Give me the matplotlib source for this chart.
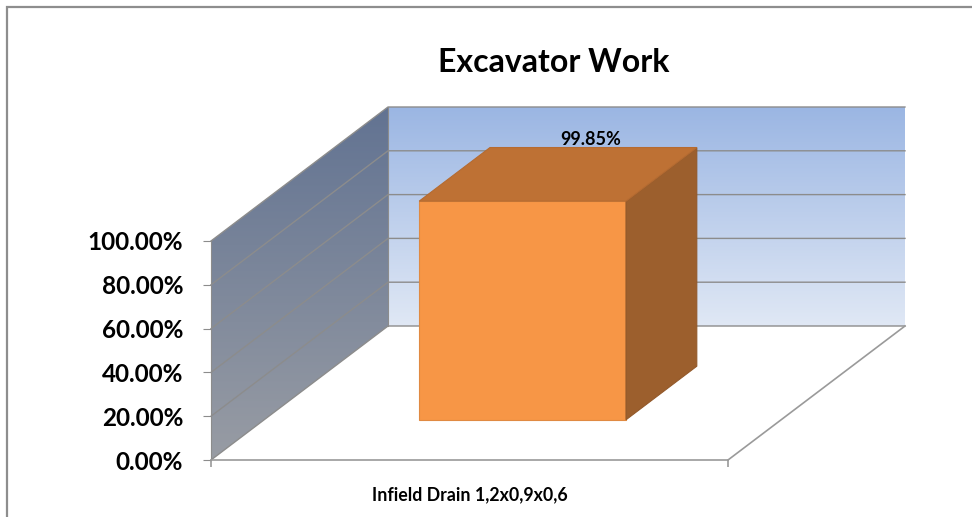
import numpy as np
import matplotlib
matplotlib.use("Agg")
import matplotlib.pyplot as plt
from matplotlib.patches import Polygon, Rectangle
from matplotlib.ticker import PercentFormatter
from matplotlib.colors import LinearSegmentedColormap

# data
categories = ["Infield Drain 1,2x0,9x0,6"]
values = [0.9985]
y_ticks = [0.0, 0.2, 0.4, 0.6, 0.8, 1.0]
title = "Excavator Work"

plt.rcParams['font.family'] = ['Lato', 'DejaVu Sans']

# oblique depth offset (in data units) and bar extent in category/depth
DX = 177 / 517
DY = 134 / 219
BAR_LO, BAR_HI = 0.3, 0.7
GRID = "#8c8c8c"

fig = plt.figure(figsize=(9.72, 5.17), dpi=100)
ax = fig.add_axes([211 / 972, 57 / 517, 694 / 972, 353 / 517])
ax.set_xlim(0, 1 + DX)
ax.set_ylim(0, 1 + DY)
ax.patch.set_visible(False)

# outer chart border
fig.patches.append(Rectangle((7 / 972, -0.1), 1.2, 1 - 7 / 517 + 0.1,
                             transform=fig.transFigure, fill=False,
                             edgecolor="#8e8e8e", lw=1.6))

def gradient(poly, top, bottom, y0, y1, x0, x1):
    cmap = LinearSegmentedColormap.from_list("g", [bottom, top])
    grad = np.linspace(0, 1, 256).reshape(-1, 1)
    im = ax.imshow(grad, cmap=cmap, origin="lower", aspect="auto",
                   extent=[x0, x1, y0, y1], zorder=1)
    patch = Polygon(poly, closed=True, transform=ax.transData,
                    facecolor="none", edgecolor="none")
    ax.add_patch(patch)
    im.set_clip_path(patch)

ymax = y_ticks[-1]
# side wall
side = [(0, 0), (0, ymax), (DX, ymax + DY), (DX, DY)]
gradient(side, "#627392", "#989ca4", 0, ymax + DY, 0, DX)
# back wall
back = [(DX, DY), (DX, ymax + DY), (1 + DX, ymax + DY), (1 + DX, DY)]
gradient(back, "#9bb6e3", "#e0e8f5", DY, ymax + DY, DX, 1 + DX)

# gridlines on the walls
for t in y_ticks:
    ax.plot([0, DX, 1 + DX], [t, t + DY, t + DY], color=GRID, lw=1.0,
            zorder=2, clip_on=False)
ax.plot([DX, DX], [DY, ymax + DY], color=GRID, lw=0.8, zorder=2)
# floor edges
ax.plot([1, 1 + DX], [0, DY], color="#9a9a9a", lw=1.2, zorder=2, clip_on=False)

# bars
for i, v in enumerate(values):
    x0, x1 = i + BAR_LO, i + BAR_HI
    d0, d1 = BAR_LO, BAR_HI
    fx0, fx1 = x0 + d0 * DX, x1 + d0 * DX
    by = d0 * DY
    front = [(fx0, by), (fx0, by + v), (fx1, by + v), (fx1, by)]
    right = [(fx1, by), (fx1, by + v), (x1 + d1 * DX, v + d1 * DY), (x1 + d1 * DX, d1 * DY)]
    top = [(fx0, by + v), (fx1, by + v), (x1 + d1 * DX, v + d1 * DY), (x0 + d1 * DX, v + d1 * DY)]
    ax.add_patch(Polygon(front, closed=True, facecolor="#f79646", edgecolor="#e08a42", lw=0.8, zorder=4))
    ax.add_patch(Polygon(right, closed=True, facecolor="#9c5f2d", edgecolor="#93592a", lw=0.8, zorder=4))
    ax.add_patch(Polygon(top, closed=True, facecolor="#be7134", edgecolor="#b56b31", lw=0.8, zorder=4))
    ax.annotate(f"{v * 100:.2f}%", (i + 0.5 + d1 * DX, v + d1 * DY),
                xytext=(-2, 1.5), textcoords="offset points", ha="center",
                va="baseline", fontsize=13, fontweight="bold", zorder=5)

# axes styling
for s in ["top", "right"]:
    ax.spines[s].set_visible(False)
ax.spines["left"].set_bounds(0, ymax)
ax.spines["bottom"].set_bounds(0, len(categories))
ax.spines["left"].set_color(GRID)
ax.spines["bottom"].set_color("#9a9a9a")
ax.spines["bottom"].set_linewidth(1.2)
ax.set_yticks(y_ticks)
ax.yaxis.set_major_formatter(PercentFormatter(1.0, decimals=2))
ax.tick_params(axis="y", length=6, color=GRID, pad=14, labelsize=17.5)
for lab in ax.get_yticklabels():
    lab.set_fontweight("bold")
ax.set_xticks([i + 0.5 for i in range(len(categories))])
ax.set_xticklabels(categories, fontsize=12.8, fontweight="bold")
ax.set_xticks(range(len(categories) + 1), minor=True)
ax.tick_params(axis="x", which="major", length=0, pad=19)
ax.tick_params(axis="x", which="minor", length=5, color="#9a9a9a", width=1.2)

fig.text(554 / 972, 1 - 63 / 517, title, ha="center", va="center",
         fontsize=23, fontweight="bold")

fig.savefig("out.png", dpi=100)
